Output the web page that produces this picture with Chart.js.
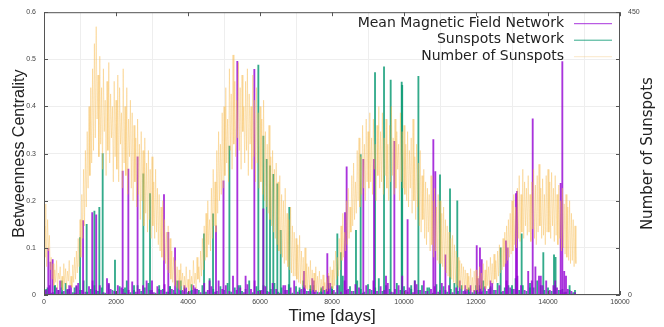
<!DOCTYPE html>
<html>
<head>
<meta charset="utf-8">
<script src="https://cdn.jsdelivr.net/npm/chart.js@4.4.0/dist/chart.umd.min.js"></script>
<style>
  html, body { margin: 0; padding: 0; background: #fff; }
  #wrap { width: 664px; height: 327px; }
</style>
</head>
<body>
<div id="wrap"><canvas id="chart" width="664" height="327"></canvas></div>
<script>
// tall spikes of the mean magnetic field network (day, betweenness)
const magDays = [120, 180, 240, 400, 700, 900, 1085, 1340, 1450, 1800, 2185, 2343, 2600, 3000, 3333, 3453, 3640, 3900, 4200, 4600, 4778, 4985, 5370, 5600, 5843, 6093, 6700, 7222, 7500, 7870, 7900, 8362, 8407, 8870, 9167, 9500, 9732, 10100, 10300, 10815, 10870, 11150, 11700, 12020, 12110, 12160, 12400, 12833, 12880, 13110, 13140, 13575, 13800, 14200, 14352, 14398, 14450, 14500];
const magValues = [0.099, 0.07, 0.075, 0.01, 0.02, 0.02, 0.158, 0.175, 0.17, 0.025, 0.263, 0.267, 0.293, 0.03, 0.213, 0.133, 0.10, 0.02, 0.015, 0.03, 0.147, 0.242, 0.496, 0.04, 0.479, 0.183, 0.02, 0.05, 0.03, 0.088, 0.04, 0.175, 0.272, 0.288, 0.288, 0.04, 0.326, 0.16, 0.03, 0.33, 0.262, 0.085, 0.02, 0.105, 0.10, 0.075, 0.03, 0.115, 0.10, 0.215, 0.22, 0.374, 0.04, 0.03, 0.237, 0.495, 0.05, 0.04];
// small values of the magnetic network, every 100 days from day 50
const magBaseStart = 50;
const magBaseStep = 100;
const magBase = [
  0.01, 0.02, 0.005, 0.015, 0.03, 0.008, 0.012, 0.02, 0.004, 0.025,
  0.01, 0.006, 0.018, 0.03, 0.01, 0.02, 0.005, 0.035, 0.012, 0.008,
  0.02, 0.015, 0.004, 0.01, 0.028, 0.006, 0.012, 0.02, 0.03, 0.01,
  0.005, 0.018, 0.01, 0.022, 0.006, 0.012, 0.004, 0.03, 0.01, 0.015,
  0.008, 0.02, 0.012, 0.005, 0.025, 0.01, 0.018, 0.006, 0.03, 0.012,
  0.02, 0.008, 0.04, 0.01, 0.015, 0.005, 0.022, 0.012, 0.03, 0.008,
  0.01, 0.018, 0.006, 0.025, 0.012, 0.004, 0.02, 0.01, 0.015, 0.03,
  0.006, 0.012, 0.02, 0.008, 0.035, 0.01, 0.005, 0.018, 0.012, 0.025,
  0.01, 0.02, 0.006, 0.03, 0.012, 0.008, 0.022, 0.015, 0.004, 0.02,
  0.012, 0.03, 0.008, 0.018, 0.01, 0.025, 0.006, 0.012, 0.02, 0.04,
  0.01, 0.015, 0.005, 0.022, 0.01, 0.03, 0.008, 0.012, 0.018, 0.006,
  0.025, 0.01, 0.02, 0.005, 0.015, 0.03, 0.008, 0.012, 0.02, 0.01,
  0.035, 0.006, 0.018, 0.012, 0.025, 0.01, 0.02, 0.008, 0.03, 0.015,
  0.012, 0.04, 0.02, 0.01, 0.05, 0.03, 0.06, 0.04, 0.02, 0.03,
  0.01, 0.02, 0.015, 0.01, 0.005, 0.012, 0.008, 0.005
];

// tall spikes of the sunspots network
const spotDays = [60, 300, 500, 650, 850, 1000, 1185, 1400, 1537, 1630, 1972, 2250, 2500, 2760, 2945, 3200, 3500, 3800, 4100, 4445, 4695, 5150, 5450, 5954, 6093, 6186, 6278, 6370, 6481, 6575, 6814, 7100, 7400, 7700, 8000, 8148, 8250, 8666, 8796, 9195, 9445, 9630, 9936, 9950, 10200, 10400, 10650, 11000, 11278, 11480, 11800, 12100, 12400, 12685, 13000, 13268, 13500, 13870, 14167, 14210, 14600, 14750];
const spotValues = [0.012, 0.02, 0.03, 0.01, 0.015, 0.122, 0.15, 0.178, 0.186, 0.30, 0.074, 0.015, 0.02, 0.257, 0.215, 0.012, 0.018, 0.03, 0.01, 0.13, 0.172, 0.316, 0.02, 0.488, 0.337, 0.288, 0.274, 0.256, 0.236, 0.137, 0.186, 0.015, 0.02, 0.012, 0.018, 0.13, 0.09, 0.137, 0.298, 0.472, 0.484, 0.456, 0.452, 0.445, 0.02, 0.464, 0.015, 0.255, 0.225, 0.20, 0.012, 0.02, 0.015, 0.10, 0.02, 0.13, 0.015, 0.09, 0.085, 0.08, 0.02, 0.01];
// small values of the sunspots network, every 100 days from day 0
const spotBaseStart = 0;
const spotBaseStep = 100;
const spotBase = [
  0.008, 0.015, 0.004, 0.02, 0.01, 0.006, 0.025, 0.012, 0.005, 0.018,
  0.01, 0.03, 0.006, 0.012, 0.02, 0.008, 0.015, 0.004, 0.022, 0.01,
  0.006, 0.018, 0.012, 0.03, 0.005, 0.01, 0.02, 0.008, 0.015, 0.025,
  0.01, 0.004, 0.02, 0.012, 0.006, 0.018, 0.01, 0.03, 0.008, 0.015,
  0.005, 0.022, 0.012, 0.01, 0.02, 0.006, 0.035, 0.012, 0.008, 0.018,
  0.01, 0.025, 0.006, 0.015, 0.02, 0.008, 0.012, 0.03, 0.005, 0.018,
  0.01, 0.02, 0.008, 0.012, 0.025, 0.006, 0.015, 0.01, 0.022, 0.004,
  0.018, 0.01, 0.03, 0.008, 0.012, 0.02, 0.006, 0.015, 0.01, 0.025,
  0.012, 0.005, 0.02, 0.04, 0.01, 0.018, 0.008, 0.03, 0.012, 0.006,
  0.022, 0.01, 0.015, 0.035, 0.008, 0.02, 0.012, 0.005, 0.025, 0.01,
  0.018, 0.006, 0.012, 0.03, 0.01, 0.02, 0.008, 0.015, 0.004, 0.022,
  0.01, 0.018, 0.006, 0.012, 0.025, 0.008, 0.02, 0.01, 0.015, 0.005,
  0.02, 0.012, 0.03, 0.008, 0.018, 0.01, 0.025, 0.006, 0.015, 0.02,
  0.012, 0.035, 0.01, 0.02, 0.008, 0.025, 0.015, 0.03, 0.02, 0.01,
  0.015, 0.008, 0.02, 0.01, 0.012, 0.006, 0.01, 0.005
];

// number of sunspots, one value every 25 days from day 0 (one row = 1000 days)
const sunspotStep = 25;
const sunspotCounts = [
  110, 60, 145, 45, 120, 70, 95, 40, 60, 25, 50, 15, 40, 20, 55, 10, 35, 25, 45, 12, 30, 8, 50, 18, 42, 10, 38, 22, 55, 15, 30, 12, 48, 20, 60, 25, 70, 35, 90, 45,
  120, 60, 160, 90, 200, 110, 230, 140, 260, 170, 300, 190, 330, 210, 360, 230, 400, 250, 427, 280, 350, 220, 380, 240, 330, 200, 360, 260, 310, 190, 340, 230, 370, 210, 320, 250, 300, 180, 340, 220,
  310, 200, 350, 180, 330, 240, 290, 170, 360, 210, 300, 190, 330, 160, 280, 220, 310, 170, 290, 150, 270, 180, 250, 140, 280, 160, 240, 120, 260, 150, 230, 110, 250, 130, 210, 100, 230, 120, 200, 90,
  220, 110, 180, 90, 200, 100, 170, 80, 160, 70, 140, 60, 150, 55, 120, 50, 100, 40, 110, 35, 90, 25, 70, 20, 60, 15, 55, 12, 45, 10, 40, 8, 50, 14, 35, 6, 30, 10, 45, 12,
  25, 5, 40, 12, 30, 8, 55, 18, 35, 10, 60, 25, 45, 20, 70, 30, 90, 40, 110, 55, 130, 60, 150, 80, 120, 70, 170, 90, 200, 110, 180, 100, 230, 130, 260, 150, 240, 160, 290, 170,
  300, 190, 330, 210, 280, 180, 360, 230, 320, 200, 382, 240, 340, 220, 310, 250, 370, 230, 330, 200, 350, 260, 300, 210, 340, 230, 360, 190, 320, 240, 300, 200, 350, 220, 310, 180, 330, 210, 290, 170,
  300, 180, 280, 160, 310, 150, 260, 140, 240, 130, 270, 120, 220, 110, 230, 100, 200, 90, 210, 80, 180, 70, 190, 65, 160, 60, 150, 50, 170, 55, 130, 45, 120, 40, 140, 35, 110, 30, 100, 30,
  90, 25, 80, 20, 95, 18, 70, 15, 60, 12, 75, 10, 50, 8, 45, 10, 55, 6, 40, 8, 35, 5, 45, 7, 30, 4, 38, 6, 25, 5, 32, 8, 20, 4, 28, 6, 35, 10, 45, 12,
  40, 10, 55, 15, 70, 25, 60, 30, 90, 40, 110, 55, 130, 60, 100, 70, 150, 80, 170, 90, 140, 100, 190, 110, 210, 120, 180, 130, 230, 150, 250, 140, 220, 160, 270, 170, 240, 150, 280, 180,
  260, 170, 290, 180, 250, 160, 280, 200, 240, 150, 270, 190, 300, 170, 260, 180, 290, 160, 250, 190, 280, 170, 240, 150, 270, 180, 300, 190, 250, 160, 280, 170, 260, 200, 240, 150, 290, 180, 260, 170,
  270, 160, 240, 150, 260, 140, 230, 170, 250, 130, 280, 150, 220, 120, 240, 140, 210, 110, 230, 100, 190, 120, 200, 90, 180, 80, 170, 100, 160, 70, 190, 80, 150, 60, 170, 70, 140, 55, 160, 50,
  150, 50, 130, 45, 140, 40, 120, 35, 110, 30, 100, 28, 90, 25, 95, 20, 80, 18, 70, 15, 60, 12, 55, 10, 50, 8, 45, 10, 40, 6, 35, 8, 30, 5, 42, 7, 28, 4, 38, 6,
  40, 8, 30, 5, 45, 10, 35, 7, 50, 12, 40, 10, 55, 15, 45, 12, 60, 20, 50, 18, 65, 25, 55, 20, 70, 30, 80, 35, 75, 40, 90, 45, 100, 50, 110, 55, 120, 60, 130, 65,
  150, 70, 160, 80, 140, 75, 170, 90, 190, 85, 160, 100, 200, 90, 180, 110, 170, 95, 190, 100, 160, 85, 180, 105, 200, 90, 175, 80, 190, 100, 208, 110, 170, 90, 185, 95, 160, 80, 190, 100,
  200, 100, 180, 90, 195, 110, 170, 85, 190, 95, 160, 80, 175, 90, 150, 70, 170, 75, 145, 65, 160, 60, 140, 55, 150, 50, 130, 55, 120, 45, 110, 50
];

const xTicks = [0, 2000, 4000, 6000, 8000, 10000, 12000, 14000, 16000];
const leftTicks = [0, 0.1, 0.2, 0.3, 0.4, 0.5, 0.6];
const rightTickLabels = [0, 450];

const COL_MAG = 'rgba(148, 0, 211, 0.8)';
const COL_SPOT = 'rgba(0, 150, 110, 0.8)';
const COL_NUM = 'rgba(246, 186, 80, 0.38)';

function spikes(days, values, baseStart, baseStep, base) {
    const pts = days.map((d, i) => ({x: d, y: values[i]}));
    base.forEach((v, i) => pts.push({x: baseStart + i * baseStep, y: v}));
    return pts.sort((a, b) => a.x - b.x);
}

// frame with inward ticks, right title and the gnuplot-like key
const framePlugin = {
    id: 'frame',
    afterDatasetsDraw(chart) {
        const ctx = chart.ctx;
        const a = chart.chartArea;
        const sx = chart.scales.x, sy = chart.scales.y, sy2 = chart.scales.y2;
        ctx.save();
        ctx.strokeStyle = '#555';
        ctx.lineWidth = 1;
        ctx.strokeRect(a.left + 0.5, a.top + 0.5, a.right - a.left - 1, a.bottom - a.top - 1);
        ctx.beginPath();
        xTicks.forEach(v => {
            const px = Math.round(sx.getPixelForValue(v)) + 0.5;
            ctx.moveTo(px, a.bottom); ctx.lineTo(px, a.bottom - 4);
            ctx.moveTo(px, a.top); ctx.lineTo(px, a.top + 4);
        });
        leftTicks.forEach(v => {
            const py = Math.round(sy.getPixelForValue(v)) + 0.5;
            ctx.moveTo(a.left, py); ctx.lineTo(a.left + 4, py);
        });
        for (let v = 0; v <= 450; v += 75) {
            const py = Math.round(sy2.getPixelForValue(v)) + 0.5;
            ctx.moveTo(a.right, py); ctx.lineTo(a.right - 4, py);
        }
        ctx.stroke();

        // right axis title, reading bottom to top
        ctx.save();
        ctx.translate(chart.width - 16, (a.top + a.bottom) / 2);
        ctx.rotate(-Math.PI / 2);
        ctx.font = '15px "DejaVu Sans", sans-serif';
        ctx.fillStyle = '#222';
        ctx.textAlign = 'center';
        ctx.textBaseline = 'middle';
        ctx.fillText('Number of Sunspots', 0, 0);
        ctx.restore();

        // key
        const cols = [COL_MAG, COL_SPOT, 'rgba(240, 190, 100, 0.35)'];
        ctx.font = '14px "DejaVu Sans", sans-serif';
        ctx.textAlign = 'right';
        ctx.textBaseline = 'middle';
        chart.data.datasets.forEach((ds, i) => {
            const y = a.top + 11 + i * 16.5;
            ctx.fillStyle = '#222';
            ctx.fillText(ds.label, a.right - 56, y);
            ctx.strokeStyle = cols[i];
            ctx.lineWidth = 1;
            ctx.beginPath();
            ctx.moveTo(a.right - 46, y + 0.5);
            ctx.lineTo(a.right - 8, y + 0.5);
            ctx.stroke();
        });
        ctx.restore();
    }
};

const ctx = document.getElementById('chart');
new Chart(ctx, {
    type: 'bar',
    data: {
        datasets: [{
                label: 'Mean Magnetic Field Network',
                data: spikes(magDays, magValues, magBaseStart, magBaseStep, magBase),
                backgroundColor: COL_MAG,
                barThickness: 1.2,
                minBarLength: 2,
                grouped: false,
                yAxisID: 'y',
                order: 2
            }, {
                label: 'Sunspots Network',
                data: spikes(spotDays, spotValues, spotBaseStart, spotBaseStep, spotBase),
                backgroundColor: COL_SPOT,
                barThickness: 1.2,
                minBarLength: 2,
                grouped: false,
                yAxisID: 'y',
                order: 3
            }, {
                type: 'line',
                label: 'Number of Sunspots',
                data: sunspotCounts.map((v, i) => ({x: i * sunspotStep, y: v})),
                borderColor: COL_NUM,
                borderWidth: 1,
                pointRadius: 0,
                tension: 0,
                yAxisID: 'y2',
                order: 1
            }]
    },
    options: {
        responsive: false,
        animation: false,
        layout: {padding: {top: 10, left: 10}},
        plugins: {legend: {display: false}, tooltip: {enabled: false}},
        scales: {
            x: {
                type: 'linear',
                min: 0,
                max: 16000,
                offset: false,
                afterBuildTicks: s => { s.ticks = xTicks.map(v => ({value: v})); },
                ticks: {font: {size: 7}, color: '#444', padding: 3, maxRotation: 0,
                    callback: v => String(v)},
                grid: {color: '#eeeeee', drawTicks: false},
                border: {display: false},
                title: {display: true, text: 'Time [days]', font: {size: 17}, color: '#222', padding: 0},
                afterFit: s => { s.height = 32; }
            },
            y: {
                position: 'left',
                min: 0,
                max: 0.6,
                afterBuildTicks: s => { s.ticks = leftTicks.map(v => ({value: v})); },
                ticks: {font: {size: 7}, color: '#444', padding: 8,
                    callback: v => v === 0 ? '0' : v.toFixed(1)},
                grid: {color: '#eeeeee', drawTicks: false},
                border: {display: false},
                title: {display: true, text: 'Betweenness Centrality', font: {size: 16}, color: '#222', padding: 0},
                afterFit: s => { s.width = 34; }
            },
            y2: {
                position: 'right',
                min: 0,
                max: 450,
                afterBuildTicks: s => { s.ticks = rightTickLabels.map(v => ({value: v})); },
                ticks: {font: {size: 7}, color: '#444', padding: 8},
                grid: {display: false, drawTicks: false},
                border: {display: false},
                afterFit: s => { s.width = 44; }
            }
        }
    },
    plugins: [framePlugin]
});
</script>
</body>
</html>
